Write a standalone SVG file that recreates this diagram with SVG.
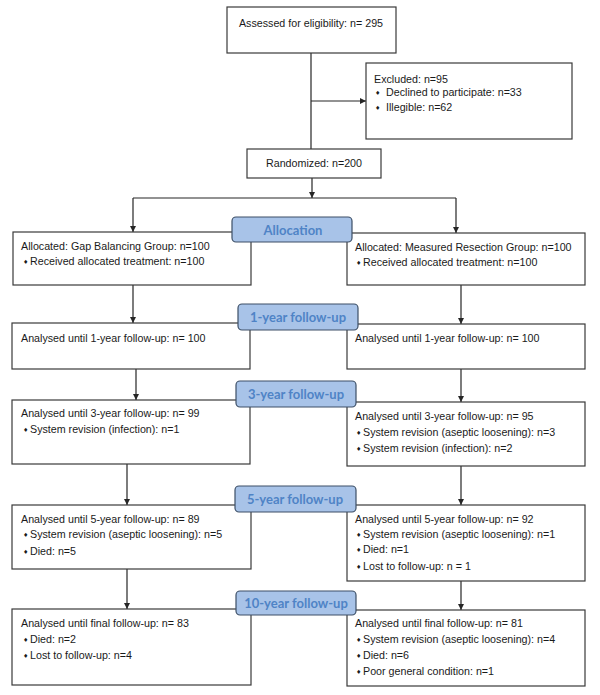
<svg xmlns="http://www.w3.org/2000/svg" width="600" height="695" viewBox="0 0 600 695">
<defs>
<style>
.box{fill:#fff;stroke:#3a3a3a;stroke-width:1.2}
.lbl{fill:#a8c3e8;stroke:#3d4f66;stroke-width:1.2}
.t{font-family:"Liberation Sans",Arial,sans-serif;font-size:10.7px;fill:#1a1a1a}
.b{font-family:"DejaVu Sans",sans-serif;font-size:6px;fill:#1a1a1a}
.lt{font-family:Lato,"Open Sans",sans-serif;font-weight:bold;font-size:13px;fill:#4f83c6;text-anchor:middle}
.c{fill:none;stroke:#262626;stroke-width:1.2}
</style>
<marker id="ah" viewBox="0 0 10 10" refX="10" refY="5" markerWidth="6" markerHeight="6" markerUnits="userSpaceOnUse" orient="auto">
<path d="M0,0 L10,5 L0,10 z" fill="#262626"/>
</marker>
</defs>
<g id="connectors">
<path class="c" d="M311,53 V149"/>
<path class="c" d="M311,101 H366" marker-end="url(#ah)"/>
<path class="c" d="M312,178 V198" marker-end="url(#ah)"/>
<path class="c" d="M133,198 H456"/>
<path class="c" d="M133,198 V232" marker-end="url(#ah)"/>
<path class="c" d="M456,198 V233" marker-end="url(#ah)"/>
<path class="c" d="M133,285 V323" marker-end="url(#ah)"/>
<path class="c" d="M136,369 V400" marker-end="url(#ah)"/>
<path class="c" d="M127,464 V505" marker-end="url(#ah)"/>
<path class="c" d="M127,569 V609" marker-end="url(#ah)"/>
<path class="c" d="M461,285 V324" marker-end="url(#ah)"/>
<path class="c" d="M461,369 V402" marker-end="url(#ah)"/>
<path class="c" d="M461,466 V505" marker-end="url(#ah)"/>
<path class="c" d="M461,581 V610" marker-end="url(#ah)"/>
</g>
<g id="assessed">
<rect class="box" x="227" y="7" width="169" height="46"/>
<text class="t" x="311" y="27" text-anchor="middle">Assessed for eligibility: n= 295</text>
</g>
<g id="excluded">
<rect class="box" x="366" y="63" width="206" height="76"/>
<text class="t" x="374" y="83">Excluded: n=95</text>
<text class="b" x="375" y="95">♦</text><text class="t" x="386" y="96">Declined to participate: n=33</text>
<text class="b" x="375" y="110">♦</text><text class="t" x="386" y="111">Illegible: n=62</text>
</g>
<g id="randomized">
<rect class="box" x="247" y="149" width="134" height="29"/>
<text class="t" x="314" y="167" text-anchor="middle">Randomized: n=200</text>
</g>
<g id="alloc-left">
<rect class="box" x="13" y="232" width="238" height="53"/>
<text class="t" x="21" y="250">Allocated: Gap Balancing Group: n=100</text>
<text class="b" x="23" y="264">♦</text><text class="t" x="30" y="265">Received allocated treatment: n=100</text>
</g>
<g id="alloc-right">
<rect class="box" x="347" y="233" width="238" height="52"/>
<text class="t" x="355" y="251">Allocated: Measured Resection Group: n=100</text>
<text class="b" x="356" y="265">♦</text><text class="t" x="363" y="266">Received allocated treatment: n=100</text>
</g>
<g id="y1-left">
<rect class="box" x="12" y="323" width="238" height="46"/>
<text class="t" x="21" y="342">Analysed until 1-year follow-up: n= 100</text>
</g>
<g id="y1-right">
<rect class="box" x="347" y="324" width="238" height="45"/>
<text class="t" x="355" y="342">Analysed until 1-year follow-up: n= 100</text>
</g>
<g id="y3-left">
<rect class="box" x="12" y="400" width="238" height="64"/>
<text class="t" x="21" y="417">Analysed until 3-year follow-up: n= 99</text>
<text class="b" x="23" y="432">♦</text><text class="t" x="30" y="433">System revision (infection): n=1</text>
</g>
<g id="y3-right">
<rect class="box" x="347" y="402" width="238" height="64"/>
<text class="t" x="355" y="420">Analysed until 3-year follow-up: n= 95</text>
<text class="b" x="356" y="435">♦</text><text class="t" x="363" y="436">System revision (aseptic loosening): n=3</text>
<text class="b" x="356" y="451">♦</text><text class="t" x="363" y="452">System revision (infection): n=2</text>
</g>
<g id="y5-left">
<rect class="box" x="12" y="505" width="239" height="64"/>
<text class="t" x="21" y="523">Analysed until 5-year follow-up: n= 89</text>
<text class="b" x="23" y="537">♦</text><text class="t" x="30" y="538">System revision (aseptic loosening): n=5</text>
<text class="b" x="23" y="554">♦</text><text class="t" x="30" y="555">Died: n=5</text>
</g>
<g id="y5-right">
<rect class="box" x="347" y="505" width="238" height="76"/>
<text class="t" x="355" y="523">Analysed until 5-year follow-up: n= 92</text>
<text class="b" x="356" y="537">♦</text><text class="t" x="363" y="538">System revision (aseptic loosening): n=1</text>
<text class="b" x="356" y="552">♦</text><text class="t" x="363" y="553">Died: n=1</text>
<text class="b" x="356" y="569">♦</text><text class="t" x="363" y="570">Lost to follow-up: n = 1</text>
</g>
<g id="y10-left">
<rect class="box" x="12" y="609" width="239" height="76"/>
<text class="t" x="21" y="627">Analysed until final follow-up: n= 83</text>
<text class="b" x="23" y="642">♦</text><text class="t" x="30" y="643">Died: n=2</text>
<text class="b" x="23" y="658">♦</text><text class="t" x="30" y="659">Lost to follow-up: n=4</text>
</g>
<g id="y10-right">
<rect class="box" x="347" y="610" width="238" height="76"/>
<text class="t" x="355" y="627">Analysed until final follow-up: n= 81</text>
<text class="b" x="356" y="642">♦</text><text class="t" x="363" y="643">System revision (aseptic loosening): n=4</text>
<text class="b" x="356" y="658">♦</text><text class="t" x="363" y="659">Died: n=6</text>
<text class="b" x="356" y="674">♦</text><text class="t" x="363" y="675">Poor general condition: n=1</text>
</g>
<g id="label-allocation">
<rect class="lbl" x="232" y="217" width="120" height="25" rx="4"/>
<text class="lt" x="293" y="235">Allocation</text>
</g>
<g id="label-1y">
<rect class="lbl" x="238" y="304" width="120" height="26" rx="4"/>
<text class="lt" x="298" y="322">1-year follow-up</text>
</g>
<g id="label-3y">
<rect class="lbl" x="236" y="381" width="120" height="26" rx="4"/>
<text class="lt" x="296" y="399">3-year follow-up</text>
</g>
<g id="label-5y">
<rect class="lbl" x="235" y="486" width="121" height="26" rx="4"/>
<text class="lt" x="295" y="504">5-year follow-up</text>
</g>
<g id="label-10y">
<rect class="lbl" x="236" y="591" width="120" height="24" rx="4"/>
<text class="lt" x="296" y="608">10-year follow-up</text>
</g>
</svg>
